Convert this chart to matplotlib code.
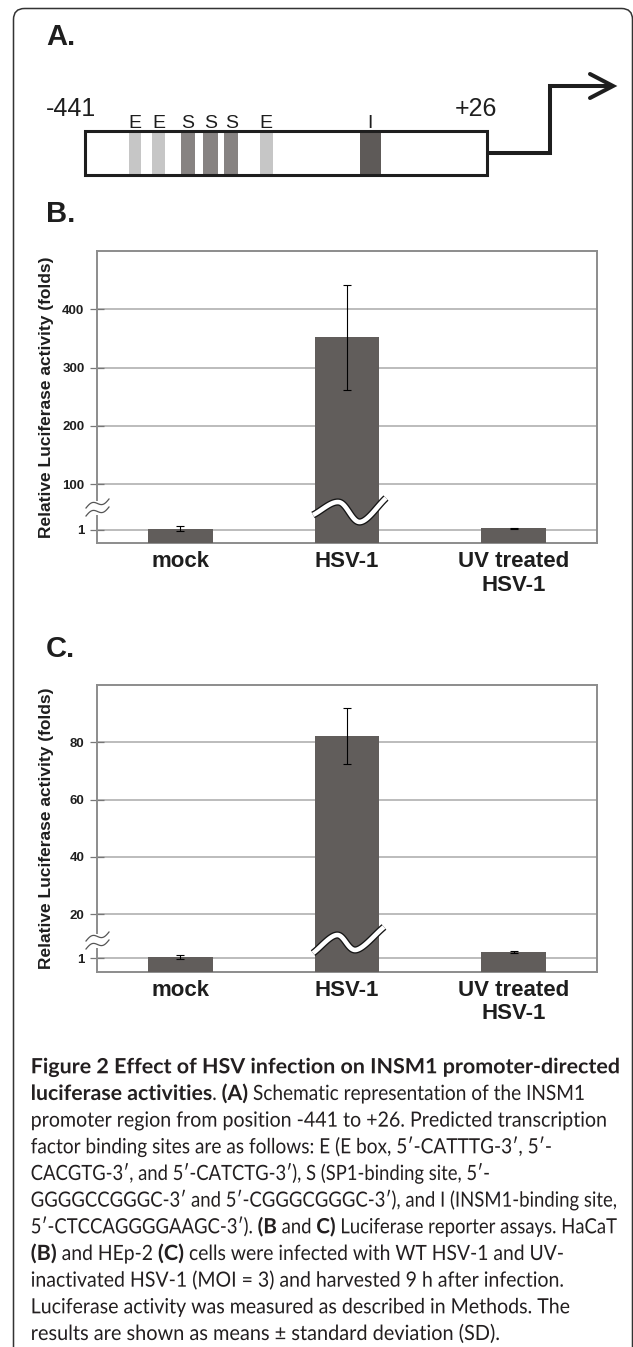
import numpy as np
import matplotlib
matplotlib.use("Agg")
import matplotlib.pyplot as plt
from matplotlib.font_manager import FontProperties
from matplotlib.textpath import TextPath
from matplotlib.patches import PathPatch, FancyBboxPatch, Rectangle
from matplotlib.transforms import Affine2D

plt.rcParams["font.family"] = ["Liberation Sans", "DejaVu Sans"]

W, H = 633, 1347

# ---- panel A: promoter map, positions in bp ----
promoter_start, promoter_end = -441, 26
site_labels = ["E", "E", "S", "S", "S", "E", "I"]
site_start = [-390, -363, -330, -304, -279, -238, -122]
site_end = [-376, -348, -313, -287, -263, -223, -97]
site_colors = {"E": "#c6c6c6", "S": "#878382", "I": "#5e5a58"}

# ---- panels B / C: luciferase activity (folds) ----
groups = ["mock", "HSV-1", "UV treated\nHSV-1"]
hacat_mean = [1.1, 352, 1.12]
hacat_sd = [0.2, 90, 0.05]
hacat_ticks = [1, 100, 200, 300, 400]
hep2_mean = [1.12, 82.3, 1.47]
hep2_sd = [0.16, 9.7, 0.06]
hep2_ticks = [1, 20, 40, 60, 80]

caption = [
    [("Figure 2 Effect of HSV infection on INSM1 promoter-directed", True)],
    [("luciferase activities", True), (". ", False), ("(A)", True),
     (" Schematic representation of the INSM1", False)],
    [("promoter region from position -441 to +26. Predicted transcription", False)],
    [("factor binding sites are as follows: E (E box, 5\u2032-CATTTG-3\u2032, 5\u2032-", False)],
    [("CACGTG-3\u2032, and 5\u2032-CATCTG-3\u2032), S (SP1-binding site, 5\u2032-", False)],
    [("GGGGCCGGGC-3\u2032 and 5\u2032-CGGGCGGGC-3\u2032), and I (INSM1-binding site,", False)],
    [("5\u2032-CTCCAGGGGAAGC-3\u2032). ", False), ("(B", True), (" and ", False), ("C)", True),
     (" Luciferase reporter assays. HaCaT", False)],
    [("(B)", True), (" and HEp-2 ", False), ("(C)", True),
     (" cells were infected with WT HSV-1 and UV-", False)],
    [("inactivated HSV-1 (MOI = 3) and harvested 9 h after infection.", False)],
    [("Luciferase activity was measured as described in Methods. The", False)],
    [("results are shown as means \u00b1 standard deviation (SD).", False)],
]
caption_ends = [620, 585, 607, 552, 490, 617, 617, 564, 564, 570, 500]

BAR = "#615d5b"
INK = "#1e1e1e"

fig = plt.figure(figsize=(W / 100, H / 100), dpi=100)


def canvas(z):
    a = fig.add_axes([0, 0, 1, 1], zorder=z)
    a.set_xlim(0, W)
    a.set_ylim(H, 0)
    a.axis("off")
    return a


back = canvas(0)
front = canvas(10)

# outer frame
back.add_patch(FancyBboxPatch((13.5, 8.5), 619, 1400, boxstyle="round,pad=0,rounding_size=11",
                              fc="none", ec="#333333", lw=1.1))

for lab, y in [("A.", 45), ("B.", 222), ("C.", 657)]:
    back.text(46, y, lab, fontsize=21, fontweight="bold", va="baseline", color=INK)

# ---- panel A ----
box_l, box_r = 85, 487
px_per_bp = (box_r - box_l) / (promoter_end - promoter_start)


def px2bp(x):
    return promoter_start + (x - box_l) / px_per_bp


axa = fig.add_axes([0, (H - 200) / H, 1, 140 / H], zorder=1)
axa.set_xlim(px2bp(0), px2bp(W))
axa.set_ylim(200, 60)
axa.axis("off")
axa.add_patch(Rectangle((promoter_start, 131), promoter_end - promoter_start, 44,
                        fc="white", ec="none", zorder=1))
for lab, s, e in zip(site_labels, site_start, site_end):
    axa.add_patch(Rectangle((s, 131), e - s, 44, fc=site_colors[lab], ec="none", zorder=2))
    axa.text((s + e) / 2, 128, lab, ha="center", va="baseline", fontsize=14, color=INK)
axa.add_patch(Rectangle((promoter_start, 131), promoter_end - promoter_start, 44,
                        fc="none", ec=INK, lw=2.2, zorder=3))
bend = px2bp(549.5)
axa.plot([promoter_end, bend, bend, px2bp(611)], [153, 153, 86, 86], color=INK, lw=2.9,
         solid_joinstyle="miter", solid_capstyle="butt", zorder=3)
axa.plot([px2bp(590), px2bp(613), px2bp(590)], [74, 86, 98], color=INK, lw=2.9,
         solid_joinstyle="miter", solid_capstyle="round", zorder=3)
axa.text(px2bp(46), 116, "-441", fontsize=18, va="baseline", color=INK)
axa.text(px2bp(455), 116, "+26", fontsize=18, va="baseline", color=INK)


# ---- panels B / C ----
def broken_scale(vk, uk):
    vk = np.asarray(vk, float)
    uk = np.asarray(uk, float)
    s0 = (uk[1] - uk[0]) / (vk[1] - vk[0])
    s1 = (uk[-1] - uk[-2]) / (vk[-1] - vk[-2])
    v = np.r_[vk[0] - 1e6, vk, vk[-1] + 1e6]
    u = np.r_[uk[0] - 1e6 * s0, uk, uk[-1] + 1e6 * s1]
    return (lambda x: np.interp(x, v, u)), (lambda y: np.interp(y, u, v))


def catmull(pts, n=25):
    p = np.asarray(pts, float)
    p = np.vstack([2 * p[0] - p[1], p, 2 * p[-1] - p[-2]])
    t = np.linspace(0, 1, n)[:, None]
    out = []
    for i in range(1, len(p) - 2):
        p0, p1, p2, p3 = p[i - 1], p[i], p[i + 1], p[i + 2]
        out.append(0.5 * (2 * p1 + (-p0 + p2) * t + (2 * p0 - 5 * p1 + 4 * p2 - p3) * t ** 2
                          + (-p0 + 3 * p1 - 3 * p2 + p3) * t ** 3))
    return np.vstack(out)


def draw_chart(rect, means, sds, ticks, vk, uk, wave_pts, break_y):
    l, t, r, b = rect
    ax = fig.add_axes([l / W, 1 - b / H, (r - l) / W, (b - t) / H], zorder=2)
    fwd, inv = broken_scale(vk, uk)
    ax.set_yscale("function", functions=(fwd, inv))
    x = np.arange(len(groups))
    ax.bar(x, means, width=0.39, color=BAR, zorder=3, yerr=sds,
           error_kw=dict(ecolor="black", elinewidth=0.8, capsize=2.6, capthick=0.8, zorder=4))
    ax.set_xlim(-0.5, len(groups) - 0.5)
    ax.set_ylim(vk[0], vk[-1])
    ax.set_yticks(ticks)
    ax.set_yticklabels([str(v) for v in ticks])
    ax.minorticks_off()
    ax.yaxis.grid(True, color="#a9a9a9", lw=1.1)
    ax.set_axisbelow(True)
    for sp in ax.spines.values():
        sp.set_color("#8c8c8c")
        sp.set_linewidth(1.4)
    ax.tick_params(axis="y", direction="inout", length=10, width=0.9, color="#777777",
                   pad=4, labelsize=9.5, labelcolor=INK)
    for lab in ax.get_yticklabels():
        lab.set_fontweight("bold")
    ax.set_xticks(x)
    ax.set_xticklabels(groups, fontsize=16, fontweight="bold", color=INK, linespacing=1.15)
    ax.tick_params(axis="x", length=0, pad=6)
    ax.set_ylabel("Relative Luciferase activity (folds)", fontsize=12.5, fontweight="bold",
                  color=INK)
    ax.yaxis.set_label_coords(-0.085, 0.5)
    # white break through the tall bar
    wv = catmull(wave_pts)
    tr = ax.get_xaxis_transform()
    ax.plot(1 + wv[:, 0], wv[:, 1], transform=tr, color="#151515", lw=5.2,
            solid_capstyle="butt", zorder=5, clip_on=False)
    ax.plot(1 + wv[:, 0], wv[:, 1], transform=tr, color="white", lw=3.3,
            solid_capstyle="butt", zorder=6, clip_on=False)
    # break mark on the y axis
    front.add_patch(Rectangle((93, break_y - 7), 8, 14, fc="white", ec="none"))
    s = np.linspace(0, 1, 40)
    for off in (-4, 4):
        front.plot(86 + 23 * s, break_y + off + 4 - 9 * s - 3 * np.sin(2 * np.pi * s),
                   color="#555555", lw=0.9)
    return ax


draw_chart((97, 251, 597, 543), hacat_mean, hacat_sd, hacat_ticks,
           [0, 1, 2, 100, 500], [0, 13, 26, 58.7, 292],
           [(-0.204, 0.096), (-0.048, 0.140), (0.078, 0.072), (0.234, 0.154)], 508)
draw_chart((97, 685, 597, 971.7), hep2_mean, hep2_sd, hep2_ticks,
           [0, 1, 2, 20, 100], [0, 13.4, 26.8, 57.4, 286.7],
           [(-0.204, 0.065), (-0.060, 0.128), (0.054, 0.076), (0.222, 0.156)], 941)

# ---- caption (condensed humanist sans) ----
cap_family = ["Lato", "DejaVu Sans"]
fp = {False: FontProperties(family=cap_family, weight="normal"),
      True: FontProperties(family=cap_family, weight="bold")}
EM = 21.0
cap_x = 30.7


def advance(s, prop):
    a = TextPath((0, 0), s + "|", size=EM, prop=prop).get_extents().x1
    b = TextPath((0, 0), "|", size=EM, prop=prop).get_extents().x1
    return a - b


# bold/regular width ratio from the pure lines, then each line fitted to its measured end
pure = {False: [], True: []}
for line, end in zip(caption, caption_ends):
    kinds = {bold for _, bold in line}
    if len(kinds) == 1:
        k = kinds.pop()
        pure[k].append((sum(advance(s, fp[k]) for s, _ in line), end - cap_x))
sx = {k: sum(t for _, t in v) / sum(n for n, _ in v) for k, v in pure.items()}
k_bold = sx[True] / sx[False]

for i, (line, end) in enumerate(zip(caption, caption_ends)):
    nat = sum(advance(s, fp[b]) * (k_bold if b else 1.0) for s, b in line)
    s_line = (end - cap_x) / nat
    x = cap_x
    base = 1073.3 + 26.67 * i
    for s, bold in line:
        f = s_line * (k_bold if bold else 1.0)
        path = TextPath((0, 0), s, size=EM, prop=fp[bold])
        trans = Affine2D().scale(f, -1).translate(x, base) + back.transData
        back.add_patch(PathPatch(path, transform=trans, fc="#231f20", ec="none", lw=0))
        x += advance(s, fp[bold]) * f

fig.savefig("out.png", dpi=100)
